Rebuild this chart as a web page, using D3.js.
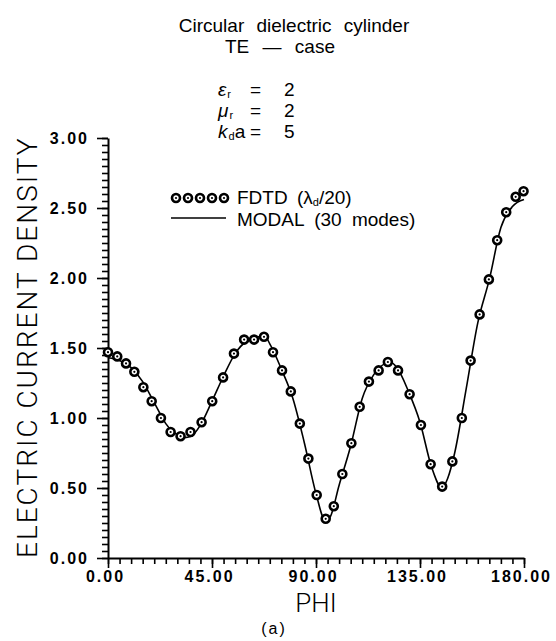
<!DOCTYPE html>
<html>
<head>
<meta charset="utf-8">
<script src="https://cdn.jsdelivr.net/npm/d3@7/dist/d3.min.js"></script>
<style>
  body { margin: 0; background: #fff; }
  svg { display: block; }
  .tick text { font-family: "Liberation Sans", Arial, sans-serif; font-weight: bold; font-size: 16px; letter-spacing: 2px; fill: #000; }
  .thin { font-family: Roboto, "Open Sans", sans-serif; font-weight: 300; fill: #000; }
  .reg { font-family: "Liberation Sans", Arial, sans-serif; fill: #000; }
</style>
</head>
<body>
<script>
// FDTD samples (phi in degrees, current density)
var phiFDTD = [0, 4.0, 7.8, 11.4, 15.3, 18.9, 22.9, 27.1, 31.4, 35.7, 40.5, 45.1,
  49.8, 54.5, 58.9, 63.2, 67.5, 71.4, 75.3, 79.1, 83.0, 86.7, 90.3, 94.2, 97.7,
  101.4, 105.3, 108.9, 112.9, 117.1, 121.1, 125.5, 130.5, 135.4, 139.6, 144.6,
  149.0, 153.1, 156.9, 160.8, 164.8, 168.4, 172.3, 176.4, 179.8];
var valFDTD = [1.47, 1.44, 1.39, 1.33, 1.22, 1.12, 1.00, 0.90, 0.87, 0.90, 0.97, 1.12,
  1.29, 1.46, 1.56, 1.56, 1.58, 1.47, 1.34, 1.19, 0.96, 0.71, 0.45, 0.28, 0.37,
  0.60, 0.82, 1.08, 1.26, 1.34, 1.40, 1.34, 1.17, 0.95, 0.67, 0.51,
  0.69, 1.00, 1.41, 1.74, 1.99, 2.27, 2.47, 2.58, 2.62];

// modal solution (30 modes)
var phiModal = [0, 5, 10, 15, 20, 25, 30, 33, 36, 40, 45, 50, 55, 60, 65, 68, 70, 75, 80, 85,
  90, 94, 96, 100, 105, 110, 115, 120, 122, 125, 130, 135, 140, 144.5, 147, 150,
  155, 160, 165, 170, 175, 180];
var valModal = [1.43, 1.41, 1.36, 1.26, 1.11, 0.96, 0.88, 0.86, 0.87, 0.95, 1.12, 1.30, 1.46, 1.55, 1.58, 1.58, 1.53, 1.35, 1.14, 0.82,
  0.46, 0.27, 0.29, 0.52, 0.80, 1.14, 1.31, 1.39, 1.40, 1.36, 1.19, 0.97, 0.65, 0.50, 0.57, 0.75,
  1.21, 1.68, 1.99, 2.36, 2.51, 2.56];

var xTicks = [0, 45, 90, 135, 180];
var yTicks = [0, 0.5, 1.0, 1.5, 2.0, 2.5, 3.0];

var larg = 556, haut = 641;

var svg = d3.select("body").append("svg")
  .attr("width", larg)
  .attr("height", haut);

var x = d3.scaleLinear().domain([0, 180]).range([108, 524]);
var y = d3.scaleLinear().domain([0, 3]).range([558, 138]);

// axes : minor ticks first, then major
var xMinor = d3.range(0, 181, 5);
var yMinor = d3.range(0, 3.001, 0.05);

svg.append("g").attr("transform", "translate(0," + y(0) + ")")
  .call(d3.axisBottom(x).tickValues(xMinor).tickSize(6).tickSizeOuter(0).tickFormat(""))
  .call(function(g) { g.select(".domain").remove(); });
svg.append("g").attr("transform", "translate(" + x(0) + ",0)")
  .call(d3.axisLeft(y).tickValues(yMinor).tickSize(6).tickSizeOuter(0).tickFormat(""))
  .call(function(g) { g.select(".domain").remove(); });

var gx = svg.append("g").attr("transform", "translate(0," + y(0) + ")")
  .call(d3.axisBottom(x).tickValues(xTicks).tickSize(10).tickSizeOuter(0).tickPadding(3)
    .tickFormat(d3.format(".2f")));
var gy = svg.append("g").attr("transform", "translate(" + x(0) + ",0)")
  .call(d3.axisLeft(y).tickValues(yTicks).tickSize(11).tickSizeOuter(0).tickPadding(8)
    .tickFormat(d3.format(".2f")));

svg.selectAll(".domain").attr("stroke", "#000").attr("stroke-width", 2);
svg.selectAll(".tick line").attr("stroke", "#000").attr("stroke-width", 1.6);
gx.selectAll(".tick text").attr("dx", "-3px");

// modal curve
var line = d3.line()
  .x(function(d, i) { return x(phiModal[i]); })
  .y(function(d) { return y(d); })
  .curve(d3.curveMonotoneX);

svg.append("path")
  .datum(valModal)
  .attr("d", line)
  .attr("fill", "none")
  .attr("stroke", "#000")
  .attr("stroke-width", 1.6);

// FDTD markers
function marker(sel) {
  sel.append("circle").attr("r", 4).attr("fill", "#fff").attr("stroke", "#000").attr("stroke-width", 2.6);
  sel.append("circle").attr("r", 1.1).attr("fill", "#000");
}
svg.selectAll("g.pt")
  .data(valFDTD)
  .enter()
  .append("g")
  .attr("class", "pt")
  .attr("transform", function(d, i) { return "translate(" + x(phiFDTD[i]) + "," + y(d) + ")"; })
  .call(marker);

// legend
var leg = svg.append("g");
leg.selectAll("g.lm")
  .data([0, 1, 2, 3, 4])
  .enter()
  .append("g")
  .attr("class", "lm")
  .attr("transform", function(d) { return "translate(" + (176 + d * 12) + ",198)"; })
  .call(marker);
leg.append("line").attr("x1", 171).attr("x2", 226).attr("y1", 218).attr("y2", 218)
  .attr("stroke", "#000").attr("stroke-width", 1.6);

var t1 = leg.append("text").attr("class", "reg").attr("x", 237).attr("y", 204)
  .attr("font-size", "19px").attr("word-spacing", "4px");
t1.append("tspan").text("FDTD (λ");
t1.append("tspan").attr("font-size", "11px").attr("dy", 2).text("d");
t1.append("tspan").attr("dy", -2).text("/20)");
leg.append("text").attr("class", "reg").attr("x", 237).attr("y", 226)
  .attr("font-size", "19px").attr("word-spacing", "5px")
  .text("MODAL (30 modes)");

// titles
svg.append("text").attr("class", "reg").attr("x", 294).attr("y", 32)
  .attr("text-anchor", "middle").attr("font-size", "19px").attr("word-spacing", "7px")
  .text("Circular dielectric cylinder");
svg.append("text").attr("class", "reg").attr("x", 280).attr("y", 53)
  .attr("text-anchor", "middle").attr("font-size", "19px").attr("word-spacing", "8px")
  .text("TE — case");

var params = [
  { sym: "ε", sub: "r", val: "2" },
  { sym: "μ", sub: "r", val: "2" },
  { sym: "k", sub: "d", tail: "a", val: "5" }
];
params.forEach(function(p, i) {
  var by = 96 + i * 21;
  var t = svg.append("text").attr("class", "reg").attr("x", 218).attr("y", by).attr("font-size", "19px");
  t.append("tspan").attr("font-style", "italic").text(p.sym);
  t.append("tspan").attr("font-size", "11px").attr("dy", 2).attr("dx", 1).text(p.sub);
  if (p.tail) t.append("tspan").attr("dy", -2).text(p.tail);
  svg.append("text").attr("class", "reg").attr("x", 250).attr("y", by).attr("font-size", "19px").text("=");
  svg.append("text").attr("class", "reg").attr("x", 284).attr("y", by).attr("font-size", "19px").text(p.val);
});

// axis titles
svg.append("text").attr("class", "thin")
  .attr("transform", "translate(37,558) rotate(-90)")
  .attr("font-size", "28px").attr("letter-spacing", "2px")
  .text("ELECTRIC CURRENT DENSITY");
svg.append("text").attr("class", "thin").attr("x", 316).attr("y", 612)
  .attr("text-anchor", "middle").attr("font-size", "26px")
  .text("PHI");
svg.append("text").attr("class", "reg").attr("x", 274).attr("y", 634)
  .attr("text-anchor", "middle").attr("font-size", "16px").attr("letter-spacing", "2px")
  .text("(a)");
</script>
</body>
</html>
